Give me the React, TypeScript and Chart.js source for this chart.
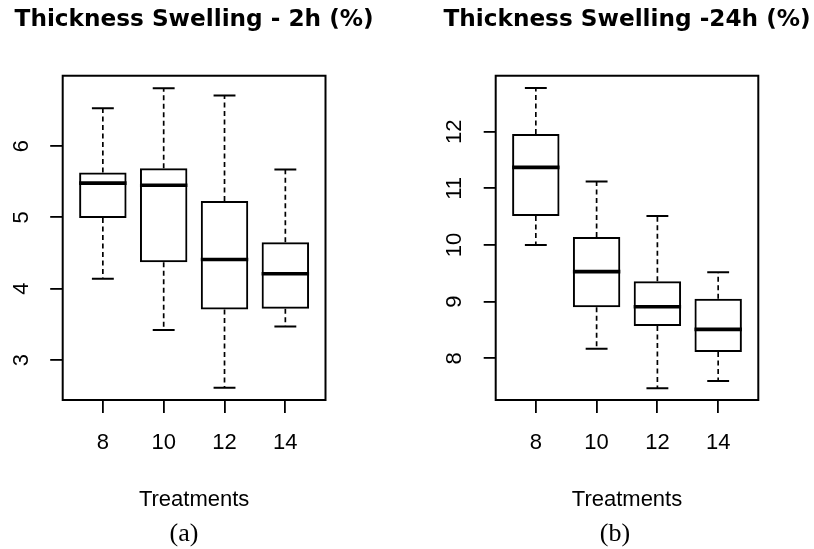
import React, { useEffect, useRef } from "react";
import { Chart, registerables } from "chart.js";

Chart.register(...registerables);

// ---------- data ----------
const CATEGORIES = ["8", "10", "12", "14"];

const MIN_2H = [4.14, 3.42, 2.61, 3.47];
const Q1_2H = [4.99, 4.37, 3.71, 3.72];
const MED_2H = [5.48, 5.45, 4.41, 4.21];
const Q3_2H = [5.63, 5.69, 5.23, 4.65];
const MAX_2H = [6.53, 6.81, 6.71, 5.67];
const Y_TICKS_2H = [3, 4, 5, 6];

const MIN_24H = [10.0, 8.17, 7.47, 7.6];
const Q1_24H = [10.51, 8.9, 8.57, 8.11];
const MED_24H = [11.37, 9.53, 8.91, 8.51];
const Q3_24H = [11.96, 10.14, 9.36, 9.05];
const MAX_24H = [12.77, 11.12, 10.51, 9.52];
const Y_TICKS_24H = [8, 9, 10, 11, 12];

const TITLE_2H = "Thickness Swelling - 2h (%)";
const TITLE_24H = "Thickness Swelling -24h (%)";
const X_TITLE = "Treatments";

// ---------- plugins ----------
const framePlugin = {
  id: "frame",
  afterDraw(chart: any, _a: any, opts: any) {
    const { left, top, right, bottom } = chart.chartArea;
    const ctx = chart.ctx;
    ctx.save();
    ctx.strokeStyle = "#000";
    ctx.lineWidth = opts.width || 2;
    ctx.strokeRect(left, top, right - left, bottom - top);
    ctx.restore();
  },
};

// keep the main title centred over the plot area, but let it be wider than the plot
const titleWidthPlugin = {
  id: "titleWidth",
  afterLayout(chart: any) {
    const tb = chart.titleBlock;
    if (!tb) return;
    const ca = chart.chartArea;
    const cx = (ca.left + ca.right) / 2;
    const half = Math.min(cx, chart.width - cx);
    tb.left = cx - half;
    tb.right = cx + half;
    tb.width = 2 * half;
  },
};

Chart.defaults.font.family = "'Liberation Sans', Arial, sans-serif";
Chart.defaults.color = "#000";

type Panel = {
  title: string;
  sub: string;
  min: number[];
  q1: number[];
  med: number[];
  q3: number[];
  max: number[];
  yTicks: number[];
  yMin: number;
  yMax: number;
  padRight: number;
  yWidth: number;
  yTickLen: number;
  yPad: number;
  spacer: number;
};

const BOX_FRAC = 0.78;
const CAP_HALF = 0.18;

function makeConfig(p: Panel): any {
  const xs = CATEGORIES.map((_, i) => i + 1);
  const boxData = xs.map((x, i) => ({ x, y: [p.q1[i], p.q3[i]] }));
  const whisk: any[] = [];
  const caps: any[] = [];
  const meds: any[] = [];
  xs.forEach((x, i) => {
    whisk.push({ x, y: p.q3[i] }, { x, y: p.max[i] }, { x, y: null });
    whisk.push({ x, y: p.q1[i] }, { x, y: p.min[i] }, { x, y: null });
    caps.push({ x: x - CAP_HALF, y: p.max[i] }, { x: x + CAP_HALF, y: p.max[i] }, { x, y: null });
    caps.push({ x: x - CAP_HALF, y: p.min[i] }, { x: x + CAP_HALF, y: p.min[i] }, { x, y: null });
    meds.push({ x: x - BOX_FRAC / 2, y: p.med[i] }, { x: x + BOX_FRAC / 2, y: p.med[i] }, { x, y: null });
  });

  const lineBase = {
    type: "line",
    pointRadius: 0,
    pointHoverRadius: 0,
    spanGaps: false,
    fill: false,
    borderColor: "#000",
    tension: 0,
  };

  return {
    type: "bar",
    data: {
      datasets: [
        { ...lineBase, label: "whiskers", data: whisk, borderWidth: 1.7, borderDash: [5, 3.5], order: 3 },
        { ...lineBase, label: "caps", data: caps, borderWidth: 2, order: 2 },
        {
          type: "bar",
          label: "box",
          data: boxData,
          backgroundColor: "rgba(255,255,255,0)",
          borderColor: "#000",
          borderWidth: 2,
          borderSkipped: false,
          barPercentage: BOX_FRAC,
          categoryPercentage: 1,
          order: 1,
        },
        { ...lineBase, label: "median", data: meds, borderWidth: 3.6, order: 0 },
      ],
    },
    options: {
      responsive: false,
      animation: false,
      events: [],
      layout: { padding: { left: 0, right: p.padRight, top: 0, bottom: 0 } },
      scales: {
        x: {
          type: "linear",
          min: 0.34,
          max: 4.66,
          offset: false,
          afterBuildTicks: (s: any) => {
            s.ticks = xs.map((v) => ({ value: v }));
          },
          afterFit: (s: any) => {
            s.height = 113.5;
          },
          grid: {
            display: true,
            drawOnChartArea: false,
            drawTicks: true,
            tickLength: 13,
            color: "#000",
            lineWidth: 1.8,
            offset: false,
          },
          border: { display: false },
          ticks: {
            callback: (_v: any, i: number) => CATEGORIES[i],
            color: "#000",
            font: { size: 22 },
            padding: 17.2,
            maxRotation: 0,
            minRotation: 0,
            autoSkip: false,
          },
          title: {
            display: true,
            text: X_TITLE,
            color: "#000",
            font: { size: 22 },
            padding: { top: 30, bottom: 0 },
          },
        },
        y: {
          type: "linear",
          position: "left",
          min: p.yMin,
          max: p.yMax,
          afterBuildTicks: (s: any) => {
            s.ticks = p.yTicks.map((v) => ({ value: v }));
          },
          afterFit: (s: any) => {
            s.width = p.yWidth;
          },
          grid: {
            display: true,
            drawOnChartArea: false,
            drawTicks: true,
            tickLength: p.yTickLen,
            color: "#000",
            lineWidth: 1.8,
          },
          border: { display: false },
          ticks: {
            minRotation: 90,
            maxRotation: 90,
            crossAlign: "center",
            padding: p.yPad,
            color: "#000",
            font: { size: 22 },
            autoSkip: false,
          },
        },
        ySpacer: {
          type: "linear",
          position: "right",
          display: true,
          grid: { display: false, drawTicks: false },
          border: { display: false },
          ticks: { display: false },
          afterFit: (s: any) => {
            s.width = p.spacer;
          },
        },
      },
      plugins: {
        legend: { display: false },
        tooltip: { enabled: false },
        title: {
          display: true,
          text: p.title,
          fullSize: false,
          align: "center",
          color: "#000",
          font: { family: "'DejaVu Sans', sans-serif", size: 23.2, weight: "bold", lineHeight: 1.2 },
          padding: { top: 6.4, bottom: 41.5 },
        },
        subtitle: {
          display: true,
          text: p.sub,
          position: "bottom",
          fullSize: true,
          align: "center",
          color: "#000",
          font: { family: "'Liberation Serif', 'Times New Roman', serif", size: 26, weight: "normal", lineHeight: 1.1 },
          padding: { top: 6.2, bottom: 0.7 },
        },
        frame: { width: 2 },
      },
    },
    plugins: [framePlugin, titleWidthPlugin],
  };
}

const PANEL_2H: Panel = {
  title: TITLE_2H,
  sub: "(a)",
  min: MIN_2H,
  q1: Q1_2H,
  med: MED_2H,
  q3: Q3_2H,
  max: MAX_2H,
  yTicks: Y_TICKS_2H,
  yMin: 2.44,
  yMax: 6.986,
  padRight: 12,
  yWidth: 62.7,
  yTickLen: 12.5,
  yPad: 22.4,
  spacer: 42.5,
};

const PANEL_24H: Panel = {
  title: TITLE_24H,
  sub: "(b)",
  min: MIN_24H,
  q1: Q1_24H,
  med: MED_24H,
  q3: Q3_24H,
  max: MAX_24H,
  yTicks: Y_TICKS_24H,
  yMin: 7.264,
  yMax: 12.988,
  padRight: 62,
  yWidth: 59.7,
  yTickLen: 12,
  yPad: 16.5,
  spacer: 35.7,
};

function BoxChart({ panel, left, width }: { panel: Panel; left: number; width: number }) {
  const ref = useRef<HTMLCanvasElement>(null);
  useEffect(() => {
    const chart = new Chart(ref.current as HTMLCanvasElement, makeConfig(panel));
    return () => chart.destroy();
  }, []);
  return (
    <canvas
      ref={ref}
      width={width}
      height={549}
      style={{ position: "absolute", left, top: 0, width, height: 549 }}
    />
  );
}

export default function App() {
  return (
    <div
      style={{
        position: "absolute",
        left: 0,
        top: 0,
        width: 814,
        height: 549,
        overflow: "hidden",
        background: "#fff",
      }}
    >
      <BoxChart panel={PANEL_2H} left={0} width={380} />
      <BoxChart panel={PANEL_24H} left={436} width={420} />
    </div>
  );
}
